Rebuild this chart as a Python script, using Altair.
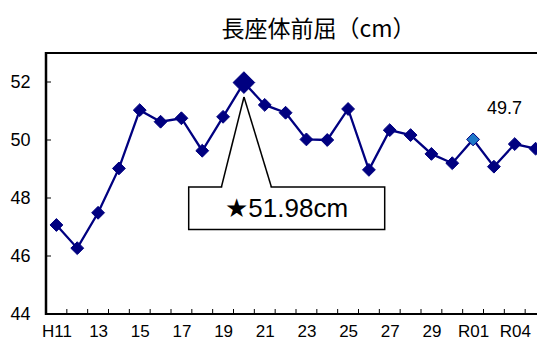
import altair as alt
import pandas as pd

categories = ["H11", "H12", "H13", "H14", "H15", "H16", "H17", "H18", "H19", "H20",
              "H21", "H22", "H23", "H24", "H25", "H26", "H27", "H28", "H29", "H30",
              "R01", "R03", "R04", "R05"]
values = [47.07, 46.27, 47.49, 49.02, 51.03, 50.63, 50.75, 49.63, 50.80, 51.98,
          51.21, 50.94, 50.02, 50.00, 51.07, 48.97, 50.34, 50.17, 49.52, 49.20,
          50.02, 49.08, 49.86, 49.70]
tick_labels = ["H11", "13", "15", "17", "19", "21", "23", "25", "27", "29", "R01", "R04"]
y_ticks = [44, 46, 48, 50, 52]
title_text = "長座体前屈（cm）"

n = len(categories)
df = pd.DataFrame({"idx": list(range(n)), "cat": categories, "val": values})
peak_cat = categories[values.index(max(values))]
mark_cat = "R01"
last_cat = categories[-1]
callout_text = f"★{max(values):.2f}cm"
last_text = f"{values[-1]:.1f}"

label_values = [i for i in range(0, n, 2)][: len(tick_labels)]
label_expr = "[" + ",".join(
    "'" + (tick_labels[label_values.index(i)] if i in label_values else "") + "'" for i in range(n)
) + "][datum.value]"

W, H = 491, 261
RANGE_W = 500
FONT = "Liberation Sans"
NAVY = "#000080"

xscale = alt.Scale(domain=[-0.5, n - 0.5], range=[0, RANGE_W], nice=False, zero=False)
yscale = alt.Scale(domain=[44, 53], nice=False, zero=False)

base = alt.Chart(df)

xaxis = alt.Axis(values=label_values, labelExpr=label_expr, title=None, ticks=False,
                 domain=False, grid=False, labelFont=FONT, labelFontSize=17,
                 labelPadding=9, labelColor="#000", labelAngle=0)
yaxis = alt.Axis(values=y_ticks, title=None, ticks=False, domain=False, grid=False,
                 labelFont=FONT, labelFontSize=18, labelPadding=16, labelColor="#000")

line = base.mark_line(color=NAVY, strokeWidth=2.3).encode(
    x=alt.X("idx:Q", scale=xscale, axis=xaxis),
    y=alt.Y("val:Q", scale=yscale, axis=yaxis),
)

points = base.mark_point(shape="diamond", filled=True, opacity=1, stroke=NAVY,
                         strokeWidth=1).encode(
    x=alt.X("idx:Q", scale=xscale),
    y=alt.Y("val:Q", scale=yscale),
    size=alt.condition(alt.datum.cat == peak_cat, alt.value(470), alt.value(165)),
    fill=alt.condition(alt.datum.cat == mark_cat, alt.value("#1E78C8"), alt.value(NAVY)),
)

last_label = base.transform_filter(alt.datum.cat == last_cat).mark_text(
    font=FONT, fontSize=18, color="#000", dx=-31, dy=-40
).encode(
    x=alt.X("idx:Q", scale=xscale),
    y=alt.Y("val:Q", scale=yscale),
    text=alt.value(last_text),
)

# inward tick marks
xt_df = pd.DataFrame({"b": [i - 0.5 for i in range(n + 1)]})
x_ticks = alt.Chart(xt_df).mark_rule(color="#000", strokeWidth=1).encode(
    x=alt.X("b:Q", scale=xscale), y=alt.value(H), y2=alt.value(H - 5))
yt_df = pd.DataFrame({"t": y_ticks})
y_tick_marks = alt.Chart(yt_df).mark_rule(color="#000", strokeWidth=1).encode(
    y=alt.Y("t:Q", scale=yscale), x=alt.value(0), x2=alt.value(5))

one = alt.Data(values=[{"a": 1}])

# plot frame (left, top, bottom)
frame_left = alt.Chart(one).mark_rule(color="#000", strokeWidth=2.5).encode(
    x=alt.value(0), x2=alt.value(0), y=alt.value(-1), y2=alt.value(H + 1))
frame_top = alt.Chart(one).mark_rule(color="#000", strokeWidth=2).encode(
    x=alt.value(0), x2=alt.value(RANGE_W), y=alt.value(0), y2=alt.value(0))
frame_bottom = alt.Chart(one).mark_rule(color="#000", strokeWidth=2).encode(
    x=alt.value(0), x2=alt.value(RANGE_W), y=alt.value(H), y2=alt.value(H))

bx0, bx1, by0, by1 = 142.7, 338.7, 134, 176.6
px0, px1, tipx, tipy = 175.4, 225.4, 198, 44
box = alt.Chart(one).mark_rect(fill="white", stroke="#000", strokeWidth=1.5).encode(
    x=alt.value(bx0), x2=alt.value(bx1), y=alt.value(by0), y2=alt.value(by1))
gap = alt.Chart(one).mark_rule(color="white", strokeWidth=3).encode(
    x=alt.value(px0 + 0.8), x2=alt.value(px1 - 0.8), y=alt.value(by0), y2=alt.value(by0))
ptr1 = alt.Chart(one).mark_rule(color="#000", strokeWidth=1.5).encode(
    x=alt.value(px0), x2=alt.value(tipx), y=alt.value(by0), y2=alt.value(tipy))
ptr2 = alt.Chart(one).mark_rule(color="#000", strokeWidth=1.5).encode(
    x=alt.value(px1), x2=alt.value(tipx), y=alt.value(by0), y2=alt.value(tipy))
ctext = alt.Chart(one).mark_text(font=FONT, fontSize=26, color="#000").encode(
    x=alt.value((bx0 + bx1) / 2), y=alt.value((by0 + by1) / 2 + 1), text=alt.value(callout_text))

chart = alt.layer(
    frame_top, frame_bottom, frame_left, x_ticks, y_tick_marks,
    box, gap, ptr1, ptr2, ctext, line, points, last_label
).properties(
    width=W, height=H,
    autosize=alt.AutoSizeParams(type="none"),
    padding={"left": 38, "top": 45, "right": 0, "bottom": 26},
    title=alt.TitleParams(title_text, font="Noto Sans CJK JP", fontSize=23,
                          fontWeight="normal", color="#000", anchor="middle",
                          dx=27, offset=9),
).configure_view(stroke=None).configure(background="white")

chart.save("out.html", embed_options={"renderer": "svg", "actions": False})
